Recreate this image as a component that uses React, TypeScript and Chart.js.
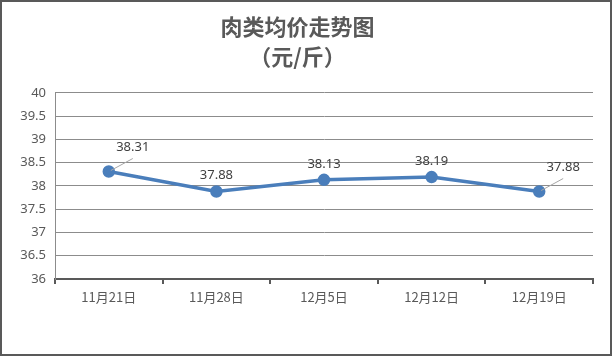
import React, { useEffect, useRef } from "react";
import { Chart, registerables } from "chart.js";

Chart.register(...registerables);

const categories = ["11月21日", "11月28日", "12月5日", "12月12日", "12月19日"];
const prices = [38.31, 37.88, 38.13, 38.19, 37.88];
const titleLines = ["肉类均价走势图", "（元/斤）"];
const yMin = 36;
const yMax = 40;
const yStep = 0.5;
// label placement: "leader" = up-right with a leader line, "above" = centered above
const labelPlacement = ["leader", "above", "above", "above", "leader"];

const dataLabelPlugin = {
  id: "dataLabels",
  afterDatasetsDraw(chart: any) {
    const meta = chart.getDatasetMeta(0);
    const ctx = chart.ctx;
    ctx.save();
    ctx.font = '13px "Noto Sans", sans-serif';
    ctx.fillStyle = "#404040";
    ctx.textAlign = "center";
    ctx.textBaseline = "middle";
    meta.data.forEach((pt: any, i: number) => {
      const v = prices[i].toFixed(2);
      if (labelPlacement[i] === "leader") {
        const lx = pt.x + 24;
        const ly = pt.y - 24;
        ctx.strokeStyle = "#a6a6a6";
        ctx.lineWidth = 1;
        ctx.beginPath();
        ctx.moveTo(pt.x + 2, pt.y - 1);
        ctx.lineTo(pt.x + 24, pt.y - 13);
        ctx.stroke();
        ctx.fillText(v, lx, ly);
      } else {
        ctx.fillText(v, pt.x, pt.y - 16);
      }
    });
    ctx.restore();
  },
};

export default function App() {
  const ref = useRef<HTMLCanvasElement | null>(null);
  useEffect(() => {
    if (!ref.current) return;
    const chart = new Chart(ref.current, {
      type: "line",
      data: {
        labels: categories,
        datasets: [
          {
            data: prices,
            borderColor: "#4a7ebb",
            backgroundColor: "#4a7ebb",
            borderWidth: 3.5,
            pointRadius: 4.5,
            pointHoverRadius: 4.5,
            pointBackgroundColor: "#4a7ebb",
            pointBorderColor: "#4a7ebb",
            tension: 0,
          },
        ],
      },
      options: {
        animation: false,
        responsive: false,
        maintainAspectRatio: false,
        layout: { padding: { left: 0, right: 17, top: 0, bottom: 0 } },
        plugins: {
          legend: { display: false },
          tooltip: { enabled: false },
          title: {
            display: true,
            text: titleLines,
            color: "#595959",
            font: { family: '"Noto Sans CJK SC", sans-serif', size: 22, weight: "bold", lineHeight: 1.36 },
            padding: { top: 10, bottom: 21 },
          },
        },
        scales: {
          x: {
            type: "category",
            offset: true,
            grid: {
              offset: true,
              drawOnChartArea: false,
              drawTicks: true,
              tickLength: 5,
              color: "#595959",
              lineWidth: 2,
            },
            border: { display: true, color: "#595959", width: 2 },
            ticks: {
              color: "#595959",
              font: { family: '"Noto Sans CJK SC", sans-serif', size: 13 },
              padding: 5,
              maxRotation: 0,
            },
            afterFit(scale: any) {
              scale.height = 75;
            },
          },
          y: {
            min: yMin,
            max: yMax,
            ticks: {
              stepSize: yStep,
              color: "#595959",
              font: { family: '"Noto Sans", sans-serif', size: 13 },
              padding: 9,
              callback: (v: any) => String(Number(v)),
            },
            grid: {
              drawTicks: false,
              color: "#8c8c8c",
              lineWidth: 1,
            },
            border: { display: true, color: "#8c8c8c", width: 1 },
            afterFit(scale: any) {
              scale.width = 53;
            },
          },
        },
      },
      plugins: [dataLabelPlugin],
    } as any);
    return () => chart.destroy();
  }, []);
  return (
    <div
      style={{
        position: "absolute",
        left: 0,
        top: 0,
        width: 612,
        height: 356,
        boxSizing: "border-box",
        border: "2px solid #595959",
        background: "#fff",
      }}
    >
      <canvas ref={ref} width={608} height={352} style={{ display: "block", width: 608, height: 352 }} />
    </div>
  );
}
